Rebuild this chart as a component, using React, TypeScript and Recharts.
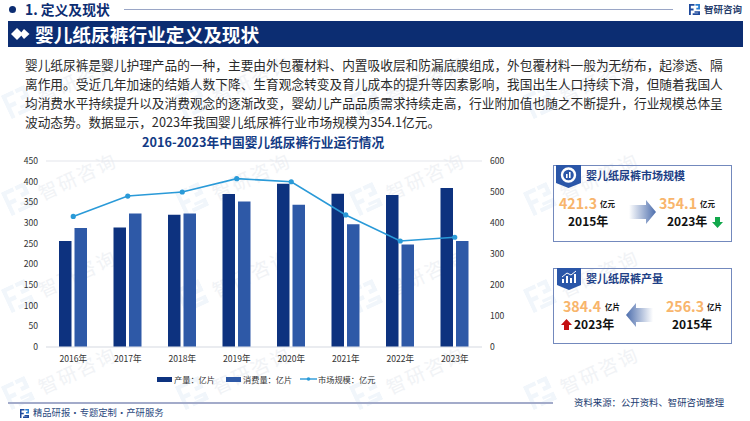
import React from "react";
import { ComposedChart, Bar, Line, XAxis, YAxis, CartesianGrid } from "recharts";

const years = ["2016年", "2017年", "2018年", "2019年", "2020年", "2021年", "2022年", "2023年"];
const production = [256.3, 289, 320, 370, 395, 371, 368, 384.4];
const consumption = [288, 323, 323, 352, 344, 297, 248, 256.3];
const market = [421.3, 487, 500, 543, 533, 426, 342, 354.1];
const leftTicks = [0, 50, 100, 150, 200, 250, 300, 350, 400, 450];
const rightTicks = [0, 100, 200, 300, 400, 500, 600];
const paragraph = [
  "婴儿纸尿裤是婴儿护理产品的一种，主要由外包覆材料、内置吸收层和防漏底膜组成，外包覆材料一般为无纺布，起渗透、隔",
  "离作用。受近几年加速的结婚人数下降、生育观念转变及育儿成本的提升等因素影响，我国出生人口持续下滑，但随着我国人",
  "均消费水平持续提升以及消费观念的逐渐改变，婴幼儿产品品质需求持续走高，行业附加值也随之不断提升，行业规模总体呈",
  "波动态势。数据显示，2023年我国婴儿纸尿裤行业市场规模为354.1亿元。",
];
const wmCols = [35, 209, 383, 557];
const wmRows = [53, 150, 247, 344];

const data = years.map((year, i) => ({ year, production: production[i], consumption: consumption[i], market: market[i] }));

const font = '"Noto Sans CJK SC", "Noto Sans", sans-serif';
const navy = "#0c2d72";

type TProps = { x: number; y: number; size: number; color?: string; bold?: boolean; children: React.ReactNode };
function T({ x, y, size, color = "#111", bold, children }: TProps) {
  return (
    <div style={{ position: "absolute", left: x, top: y - size * 0.75, fontSize: size, lineHeight: `${size * 1.5}px`, color, fontWeight: bold ? 700 : 400, whiteSpace: "nowrap" }}>
      {children}
    </div>
  );
}

function Logo({ x, y, s }: { x: number; y: number; s: number }) {
  return (
    <svg style={{ position: "absolute", left: x, top: y }} width={s} height={s} viewBox="0 0 12 12">
      <path d="M0 0H6V2H2V5H5V7H2V12H0Z" fill="#1f4a9c" />
      <path d="M7 0H12V6H8V4H10V2H7Z" fill="#2b7fd0" />
      <path d="M6 8H12V12H4V10H10V9.5H6Z" fill="#1f4a9c" />
    </svg>
  );
}

function Watermark({ x, y }: { x: number; y: number }) {
  return (
    <div style={{ position: "absolute", left: x, top: y }}>
      <svg style={{ position: "absolute", left: -30, top: 36, transform: "rotate(-25deg)" }} width="26" height="26" viewBox="0 0 12 12">
        <path d="M0 0H6V2H2V5H5V7H2V12H0Z" fill="#f1f6fb" />
        <path d="M7 0H12V6H8V4H10V2H7Z" fill="#f1f6fb" />
        <path d="M6 8H12V12H4V10H10V9.5H6Z" fill="#f1f6fb" />
      </svg>
      <div style={{ position: "absolute", left: 0, top: 12, fontSize: 19, letterSpacing: 2, color: "#f1f3f6", transform: "rotate(-25deg)", whiteSpace: "nowrap" }}>智研咨询</div>
    </div>
  );
}

function Tab({ x, y, w, h, children }: { x: number; y: number; w: number; h: number; children: React.ReactNode }) {
  return (
    <svg style={{ position: "absolute", left: x, top: y }} width={w} height={h} viewBox={`0 0 ${w} ${h}`}>
      <path d={`M0 0H${w}V${h - 5}L${w / 2} ${h}L0 ${h - 5}Z`} fill="#2a56a8" />
      {children}
    </svg>
  );
}

function BlockArrow({ x, y, dir, id }: { x: number; y: number; dir: "left" | "right"; id: string }) {
  return (
    <svg style={{ position: "absolute", left: x, top: y, transform: dir === "left" ? "scaleX(-1)" : undefined }} width="28" height="24" viewBox="0 0 28 24">
      <defs>
        <linearGradient id={id} x1="0" x2="1" y1="0" y2="0">
          <stop offset="0" stopColor="#ffffff" />
          <stop offset="1" stopColor="#4d6ead" />
        </linearGradient>
      </defs>
      <path d="M0 5H17V0L27 12L17 24V19H0Z" fill={`url(#${id})`} />
    </svg>
  );
}

function Vertical({ x, y, up, color }: { x: number; y: number; up: boolean; color: string }) {
  return (
    <svg style={{ position: "absolute", left: x, top: y }} width="11" height="11" viewBox="0 0 11 11">
      <path d={up ? "M5.5 0L11 6H8V11H3V6H0Z" : "M3 0H8V5H11L5.5 11L0 5H3Z"} fill={color} />
    </svg>
  );
}

function LegendIcon({ x, color }: { x: number; color: string }) {
  return <div style={{ position: "absolute", left: x, top: 377, width: 15, height: 4.5, background: color }} />;
}

export default function App() {
  return (
    <div style={{ position: "fixed", left: 0, top: 0, width: 750, height: 421, background: "#fff", overflow: "hidden", fontFamily: font }}>
      {wmRows.map((r) => wmCols.map((c) => <Watermark key={`${r}-${c}`} x={c} y={r} />))}

      <div style={{ position: "absolute", left: 9, top: 6, width: 7, height: 7, borderRadius: 4, background: navy }} />
      <T x={25} y={9.5} size={13.8} bold color={navy}>1. 定义及现状</T>
      <div style={{ position: "absolute", left: 124, top: 8.5, width: 549, height: 1.5, background: "#9aa6c6" }} />
      <Logo x={689} y={4} s={11} />
      <T x={704} y={9} size={9.5} bold color="#2a3f6e">智研咨询</T>

      <div style={{ position: "absolute", left: 8, top: 21, width: 735, height: 26, background: navy }} />
      <svg style={{ position: "absolute", left: 11, top: 28 }} width="19" height="12" viewBox="0 0 19 12">
        <path d="M6 0L12 6L6 12L0 6Z" fill="#fff" />
        <path d="M13 1L18.5 6L13 11L9 6Z" fill="#fff" />
      </svg>
      <T x={35} y={34} size={18.7} bold color="#fff">婴儿纸尿裤行业定义及现状</T>

      {paragraph.map((line, i) => (
        <T key={i} x={25} y={65 + i * 18.7} size={12.7} color="#2a2a2a">{line}</T>
      ))}

      <T x={142} y={142} size={12.7} bold color="#123a84">2016-2023年中国婴儿纸尿裤行业运行情况</T>

      <div style={{ position: "absolute", left: 0, top: 0 }}>
        <ComposedChart width={750} height={421} data={data} barSize={12.5} barGap={3} margin={{ left: 16, right: 238, top: 161, bottom: 44 }} style={{ fontFamily: font }}>
          <CartesianGrid horizontal vertical={false} stroke="#e4e6ec" strokeWidth={1.2} />
          <XAxis dataKey="year" tickLine={false} axisLine={{ stroke: "#e4e6ec", strokeWidth: 1.2 }} tick={{ fontSize: 8.6, fill: "#333" }} height={30} tickMargin={3} interval={0} />
          <YAxis yAxisId="l" width={30} domain={[0, 450]} ticks={leftTicks} interval={0} tickLine={false} axisLine={false} tick={{ fontSize: 8.6, fill: "#333" }} />
          <YAxis yAxisId="r" orientation="right" width={30} domain={[0, 600]} ticks={rightTicks} interval={0} tickLine={false} axisLine={false} tick={{ fontSize: 8.6, fill: "#333" }} />
          <Bar yAxisId="l" dataKey="production" name="产量：亿片" fill="#0d327f" isAnimationActive={false} />
          <Bar yAxisId="l" dataKey="consumption" name="消费量：亿片" fill="#2e59a7" isAnimationActive={false} />
          <Line yAxisId="r" dataKey="market" name="市场规模：亿元" stroke="#2a9ad8" strokeWidth={1.6} dot={{ r: 1.8, fill: "#2a9ad8", stroke: "#2a9ad8" }} isAnimationActive={false} />
        </ComposedChart>
      </div>

      <LegendIcon x={157} color="#0d327f" />
      <T x={174} y={379} size={8.2} color="#333">产量：亿片</T>
      <LegendIcon x={226} color="#2e59a7" />
      <T x={243} y={379} size={8.2} color="#333">消费量：亿片</T>
      <svg style={{ position: "absolute", left: 300, top: 375 }} width="17" height="8" viewBox="0 0 17 8">
        <line x1="0" y1="4" x2="17" y2="4" stroke="#2a9ad8" strokeWidth="1.4" />
        <circle cx="8.5" cy="4" r="1.8" fill="#2a9ad8" />
      </svg>
      <T x={318} y={379} size={8.2} color="#333">市场规模：亿元</T>

      <div style={{ position: "absolute", left: 553, top: 165, width: 177, height: 75, border: "1px solid #7389bd" }} />
      <Tab x={556} y={165} w={25} h={23}>
        <circle cx={12.5} cy={10} r={6.5} fill="none" stroke="#fff" strokeWidth={2.4} />
        <rect x={10} y={9} width={1.6} height={4} fill="#fff" />
        <rect x={13} y={7} width={1.6} height={6} fill="#fff" />
      </Tab>
      <T x={586} y={175} size={11} bold color="#1d3f86">婴儿纸尿裤市场规模</T>
      <T x={559} y={204} size={14.2} bold color="#f8b56c">421.3</T>
      <T x={600} y={204} size={7.5} bold>亿元</T>
      <T x={568} y={221} size={12} bold>2015年</T>
      <BlockArrow x={629} y={200} dir="right" id="ga" />
      <T x={659} y={204} size={14.2} bold color="#f8b56c">354.1</T>
      <T x={700} y={204} size={7.5} bold>亿元</T>
      <T x={667} y={221} size={12} bold>2023年</T>
      <Vertical x={712} y={217} up={false} color="#12a84c" />

      <div style={{ position: "absolute", left: 553, top: 268, width: 177, height: 74, border: "1px solid #7389bd" }} />
      <Tab x={557} y={268} w={24} h={22}>
        <path d="M5 15V11H7V15ZM9 15V8H11V15ZM13 15V10H15V15ZM17 15V6H19V15Z" fill="#fff" />
        <path d="M5 9L10 5L14 7L19 3" fill="none" stroke="#fff" strokeWidth={1} />
      </Tab>
      <T x={586} y={278} size={11} bold color="#1d3f86">婴儿纸尿裤产量</T>
      <T x={563} y={307} size={14.2} bold color="#f8b56c">384.4</T>
      <T x={605} y={307} size={7.5} bold>亿片</T>
      <Vertical x={561} y={319} up color="#c40f12" />
      <T x={574} y={324} size={12} bold>2023年</T>
      <BlockArrow x={625} y={303} dir="left" id="gb" />
      <T x={666} y={307} size={14.2} bold color="#f8b56c">256.3</T>
      <T x={707} y={307} size={7.5} bold>亿片</T>
      <T x={672} y={324} size={12} bold>2015年</T>

      <div style={{ position: "absolute", left: 8, top: 402, width: 545, height: 2, background: "#a3abca" }} />
      <Logo x={20} y={409} s={9} />
      <T x={33} y={413} size={9.3} color="#2c4a80"><span style={{ wordSpacing: -2 }}>精品研报 · 专题定制 · 产研服务</span></T>
      <T x={574} y={402} size={9.4} color="#203a70">资料来源：公开资料、智研咨询整理</T>
    </div>
  );
}
